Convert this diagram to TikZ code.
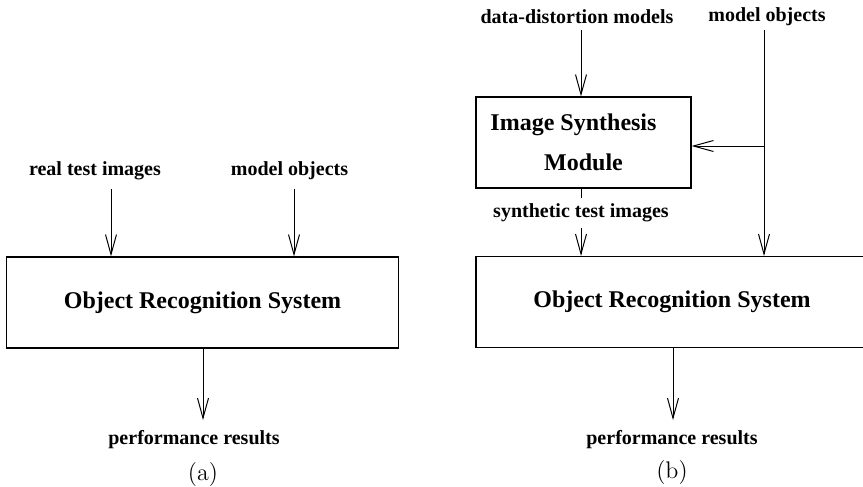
\documentclass[tikz,border=0pt]{standalone}
\usepackage{fontspec}
\usepackage{tikz}
\usetikzlibrary{calc,arrows.meta}
\newfontfamily\timesfont{Liberation Serif}

\begin{document}
\begin{tikzpicture}[x=0.5pt,y=-0.5pt,>={Straight Barb[length=10pt,width=5.5pt]},
    box/.style={draw,line width=0.6pt,minimum width=196pt,minimum height=45.5pt,font=\timesfont\bfseries\fontsize{12}{14}\selectfont},
    lbl/.style={font=\timesfont\bfseries\fontsize{10}{12}\selectfont,inner sep=1pt},
    flow/.style={->,line width=0.5pt}]

        \useasboundingbox (0,0) rectangle (863,487);
        \clip (0,0) rectangle (863,487);

        % Partie (a)
        \node[box] (orsA) at (202.5,302.5) {Object Recognition System};
        \node[lbl] (realA) at (95,171) {real test images};
        \node[lbl] (modelA) at (289.5,171) {model objects};
        \node[lbl] (perfA) at (194,440) {performance results};
        \node[font=\fontsize{12}{14}\selectfont] (capA) at (203,475) {(a)};

        \coordinate (inA1) at (111,189);
        \coordinate (inA2) at (294,189);
        \coordinate (outA) at (203,420);

        \draw[flow] (inA1) -- (inA1 |- orsA.north);
        \draw[flow] (inA2) -- (inA2 |- orsA.north);
        \draw[flow] (outA |- orsA.south) -- (outA);

        % Partie (b)
        \node[box,minimum width=107.5pt,align=center] (ism) at (583.5,142.5) {Image Synthesis\hspace*{10pt}\\[6pt]Module};
        \node[box] (orsB) at (672,302) {Object Recognition System};
        \node[lbl] (distB) at (577,17) {data-distortion models};
        \node[lbl] (modelB) at (767,17) {model objects};
        \node[lbl] (perfB) at (672,440) {performance results};
        \node[font=\fontsize{12}{14}\selectfont] (capB) at (672,473) {(b)};

        \coordinate (inB1) at (581,30);
        \coordinate (inB2) at (764,30);
        \coordinate (branch) at (764,146);
        \coordinate (outB) at (673,420);

        \draw[flow] (inB1) -- (inB1 |- ism.north);
        \draw[flow] (inB2) -- (inB2 |- orsB.north);
        \draw[flow] (branch) -- (branch -| ism.east);
        \draw[flow] (inB1 |- ism.south) -- (inB1 |- orsB.north);
        \node[lbl,fill=white,inner sep=3pt] (synB) at (581,213) {synthetic test images};
        \draw[flow] (outB |- orsB.south) -- (outB);
    \end{tikzpicture}
\end{document}
